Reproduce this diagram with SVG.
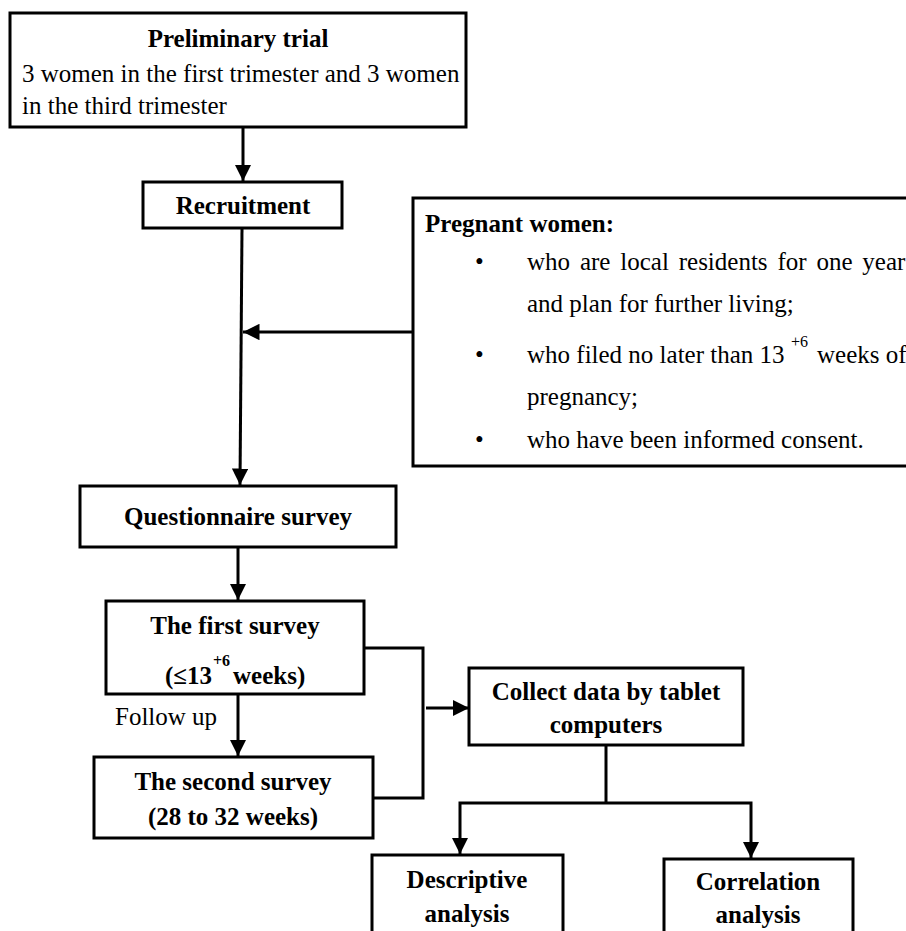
<svg xmlns="http://www.w3.org/2000/svg" width="906" height="931" viewBox="0 0 906 931">
<defs>
<style>
.box{fill:#fff;stroke:#000;stroke-width:3}
.t{font-family:"Liberation Serif","Times New Roman",serif;font-size:25px;fill:#000}
.b{font-weight:bold}
.c{text-anchor:middle}
.sup{font-size:16px}
.ln{fill:none;stroke:#000;stroke-width:3}
</style>
<marker id="ah" viewBox="0 0 10 10" refX="10" refY="5" markerWidth="5.5" markerHeight="5.5" markerUnits="strokeWidth" orient="auto">
<path d="M0,0 L10,5 L0,10 z" fill="#000"/>
</marker>
</defs>
<rect width="906" height="931" fill="#fff"/>

<g id="connectors">
<line class="ln" x1="243" y1="128" x2="243" y2="181" marker-end="url(#ah)"/>
<line class="ln" x1="242" y1="229" x2="240" y2="485" marker-end="url(#ah)"/>
<line class="ln" x1="413" y1="332" x2="243" y2="332" marker-end="url(#ah)"/>
<line class="ln" x1="238" y1="548" x2="238" y2="600" marker-end="url(#ah)"/>
<line class="ln" x1="238" y1="695" x2="238" y2="756" marker-end="url(#ah)"/>
<polyline class="ln" points="364,648 423,648 423,798 373,798"/>
<line class="ln" x1="426" y1="708" x2="469" y2="708" marker-end="url(#ah)"/>
<line class="ln" x1="606" y1="746" x2="606" y2="803"/>
<polyline class="ln" points="606,803 460,803 460,854" marker-end="url(#ah)"/>
<polyline class="ln" points="606,803 751,803 751,858" marker-end="url(#ah)"/>
</g>

<g id="preliminary">
<rect class="box" x="10" y="13" width="456" height="114"/>
<text class="t b c" x="238" y="47">Preliminary trial</text>
<text class="t" x="22" y="82">3 women in the first trimester and 3 women</text>
<text class="t" x="22" y="114">in the third trimester</text>
</g>

<g id="recruitment">
<rect class="box" x="143" y="182" width="199" height="46"/>
<text class="t b c" x="243" y="214">Recruitment</text>
</g>

<g id="criteria">
<rect class="box" x="413" y="198" width="510" height="268"/>
<text class="t b" x="425" y="232">Pregnant women:</text>
<text class="t" x="475" y="270">•</text>
<text class="t" x="527" y="270" word-spacing="3.6">who are local residents for one year</text>
<text class="t" x="527" y="312">and plan for further living;</text>
<text class="t" x="475" y="363">•</text>
<text class="t" x="527" y="363">who filed no later than 13</text>
<text class="t sup" x="791" y="347">+6</text>
<text class="t" x="817" y="363">weeks of</text>
<text class="t" x="527" y="405">pregnancy;</text>
<text class="t" x="475" y="448">•</text>
<text class="t" x="527" y="448">who have been informed consent.</text>
</g>

<g id="questionnaire">
<rect class="box" x="80" y="486" width="316" height="61"/>
<text class="t b c" x="238" y="525">Questionnaire survey</text>
</g>

<g id="first-survey">
<rect class="box" x="106" y="601" width="258" height="93"/>
<text class="t b c" x="235" y="634">The first survey</text>
<text class="t b" x="165" y="684">(≤13</text>
<text class="t b sup" x="213" y="666">+6</text>
<text class="t b" x="233" y="684">weeks)</text>
</g>

<text id="follow-up" class="t" x="115" y="725">Follow up</text>

<g id="second-survey">
<rect class="box" x="94" y="757" width="279" height="81"/>
<text class="t b c" x="233" y="790">The second survey</text>
<text class="t b c" x="233" y="825">(28 to 32 weeks)</text>
</g>

<g id="collect">
<rect class="box" x="469" y="668" width="274" height="77"/>
<text class="t b c" x="606" y="700">Collect data by tablet</text>
<text class="t b c" x="606" y="733">computers</text>
</g>

<g id="descriptive">
<rect class="box" x="372" y="855" width="191" height="90"/>
<text class="t b c" x="467" y="888">Descriptive</text>
<text class="t b c" x="467" y="922">analysis</text>
</g>

<g id="correlation">
<rect class="box" x="664" y="859" width="189" height="90"/>
<text class="t b c" x="758" y="890">Correlation</text>
<text class="t b c" x="758" y="923">analysis</text>
</g>
</svg>
